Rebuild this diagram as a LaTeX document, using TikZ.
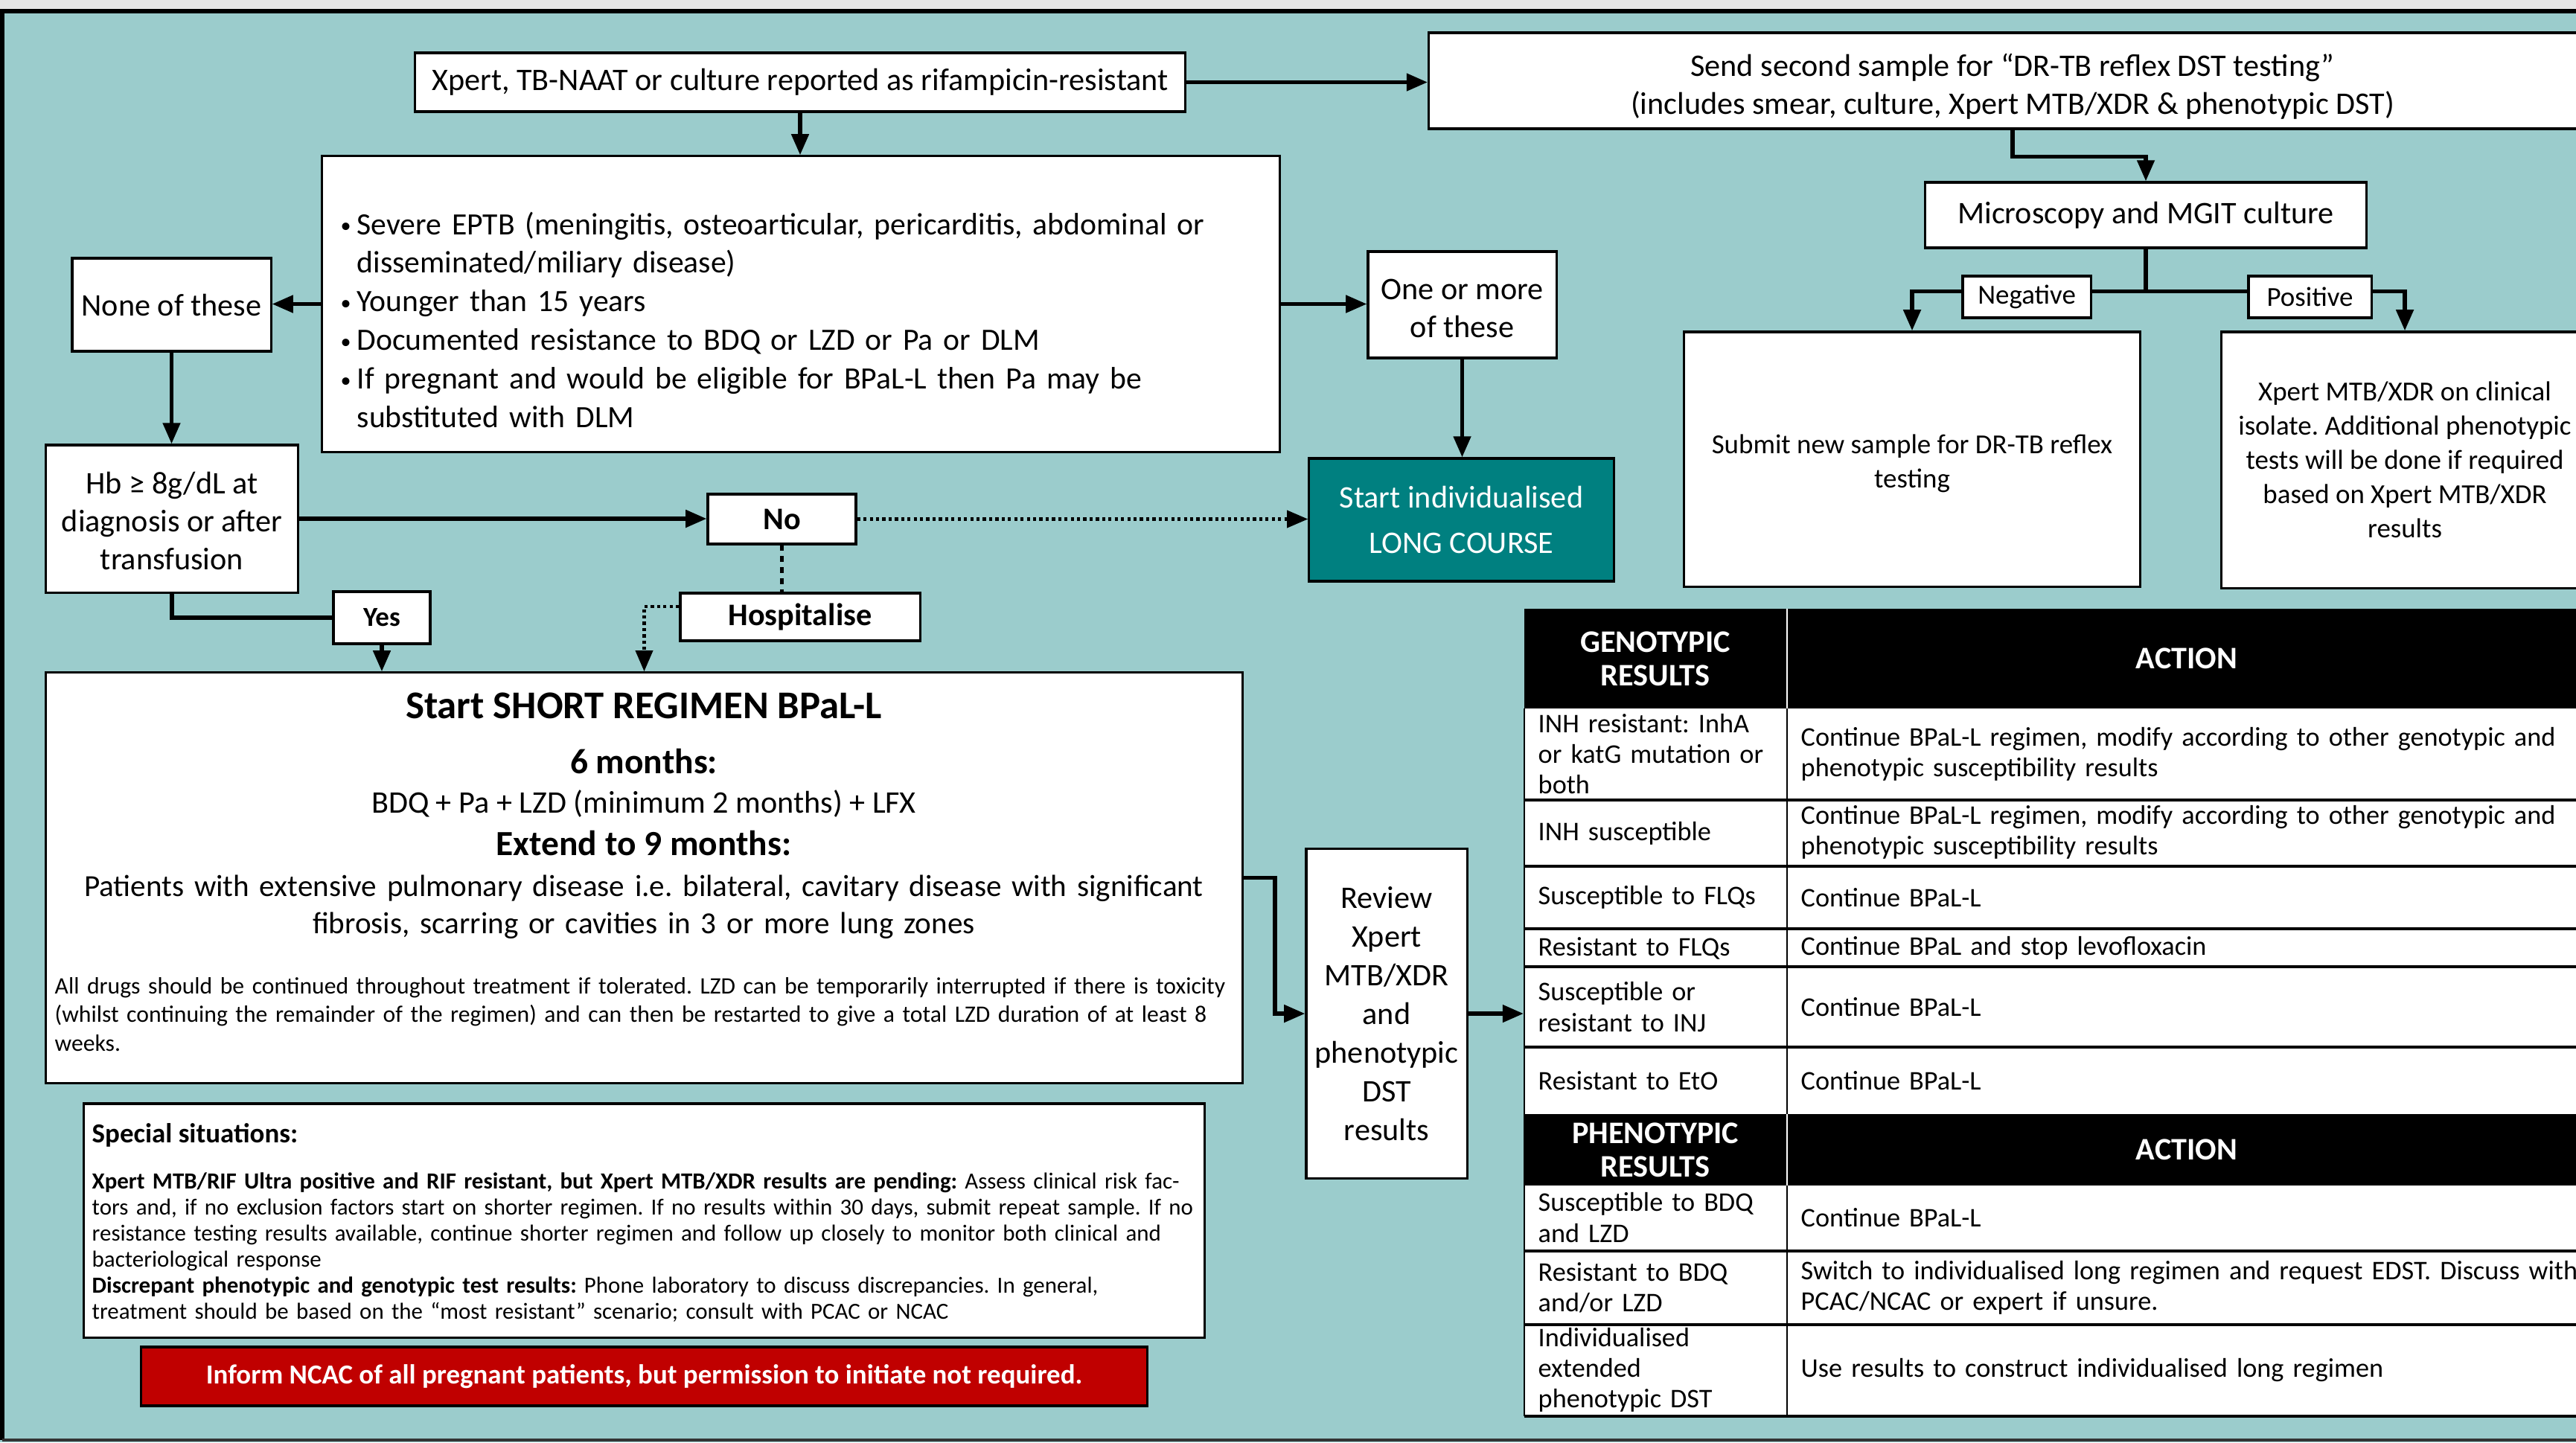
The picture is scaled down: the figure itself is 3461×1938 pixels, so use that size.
\documentclass[tikz,border=0pt]{standalone}
\usepackage{fontspec}
\setmainfont{Carlito}
\usetikzlibrary{arrows.meta}
\definecolor{bgteal}{RGB}{155,204,204}
\definecolor{darkteal}{RGB}{0,128,128}
\definecolor{alertred}{RGB}{192,0,0}
\definecolor{topgrey}{RGB}{230,230,230}
\newcommand{\fsz}[2]{\fontsize{#1}{#2}\selectfont}
\newcommand{\bulx}{\makebox[0.22cm][l]{\fsz{8}{8}\raisebox{0.6pt}{\textbullet}}}
\newcommand{\indx}{\hspace*{0.22cm}}
\newcommand{\jline}[1]{\makebox[14.85cm][s]{#1}}
\frenchspacing
\tikzset{
  box/.style={draw=black, line width=0.9pt, fill=white, inner sep=0pt, align=center},
  txt/.style={inner sep=0pt},
  arr/.style={line width=1.5pt, -{Triangle[length=8pt,width=6.5pt]}},
  seg/.style={line width=1.5pt},
  dotarr/.style={line width=1.2pt, dash pattern=on 1.2pt off 1.2pt, -{Triangle[length=8pt,width=6.5pt]}},
  dashseg/.style={line width=1.2pt, dash pattern=on 2.2pt off 2pt},
  tline/.style={line width=1pt},
  tthin/.style={line width=0.5pt},
  cellL/.style={txt, anchor=west, text width=3.3cm, align=left, font=\fsz{10.3}{11.7}},
  cellR/.style={txt, anchor=west, text width=10.8cm, align=left, font=\fsz{10.3}{11.7}},
  headtxt/.style={txt, text=white, align=center, font=\fsz{12}{12.8}\bfseries},
}
\begin{document}
\begin{tikzpicture}[x=0.01cm, y=-0.01cm]
\useasboundingbox (0,0) rectangle (3461,1938);
\clip (0,0) rectangle (3461,1938);
\fill[topgrey] (0,0) rectangle (3461,12);
\fill[bgteal] (0,12) rectangle (3461,1938);
\draw[line width=1.5pt] (3,1935) -- (3,15) -- (3470,15);
\draw[line width=1.2pt, black!80] (3,1935) -- (3470,1935);

% top flow
\node[box, minimum width=10.34cm, minimum height=0.79cm, font=\fsz{12}{14.5}] (xpert) at (1075,110.5) {\raisebox{-0.04cm}{Xpert, TB-NAAT or culture reported as rifampicin-resistant}};
\node[box, minimum width=15.68cm, minimum height=1.29cm, font=\fsz{12}{14.5}] (send) at (2704,108.5) {\rule{0pt}{0.46cm}Send second sample for “DR-TB reflex DST testing”\\(includes smear, culture, Xpert MTB/XDR \& phenotypic DST)};
\node[box, minimum width=5.92cm, minimum height=0.88cm, font=\fsz{12}{14.5}] (micro) at (2883,289) {\raisebox{-0.03cm}{Microscopy and MGIT culture}};
\node[box, minimum width=6.12cm, minimum height=3.42cm, font=\fsz{10.5}{13.1}] (submit) at (2569,617) {\rule{0pt}{0.38cm}Submit new sample for DR-TB reflex\\testing};
\node[box, minimum width=4.92cm, minimum height=3.44cm, font=\fsz{10.5}{13.1}] (posbox) at (3231,618) {Xpert MTB/XDR on clinical\\isolate. Additional phenotypic\\tests will be done if required\\based on Xpert MTB/XDR\\results};

\node[box, minimum width=12.86cm, minimum height=3.97cm] (eptb) at (1076,408.5) {};
\node[txt, anchor=base west, text width=12.5cm, align=left, font=\fsz{11.85}{14.74}] (eptbtext) at (457,315) {\bulx Severe EPTB (meningitis, osteoarticular, pericarditis, abdominal or\\\indx disseminated/miliary disease)\\\bulx Younger than 15 years\\\bulx Documented resistance to BDQ or LZD or Pa or DLM\\\bulx If pregnant and would be eligible for BPaL-L then Pa may be\\\indx substituted with DLM};

\node[box, minimum width=2.67cm, minimum height=1.25cm, font=\fsz{12}{14.5}] (none) at (230.5,409.5) {None of these};
\node[box, minimum width=2.53cm, minimum height=1.43cm, font=\fsz{12}{14.5}] (one) at (1964.5,409.5) {\rule{0pt}{0.38cm}One or more\\of these};
\node[box, minimum width=4.09cm, minimum height=1.65cm, fill=darkteal, text=white, font=\fsz{12}{17.6}] (indiv) at (1963.5,698.5) {Start individualised\\LONG COURSE};
\node[box, minimum width=3.38cm, minimum height=1.98cm, font=\fsz{12}{14.5}] (hb) at (231,697) {\rule{0pt}{0.36cm}Hb ≥ 8g/dL at\\diagnosis or after\\transfusion};
\node[box, minimum width=1.99cm, minimum height=0.67cm, font=\fsz{12}{14.5}\bfseries] (no) at (1050.5,697.5) {\raisebox{-0.04cm}{No}};
\node[box, minimum width=3.22cm, minimum height=0.64cm, font=\fsz{12}{14.5}\bfseries] (hosp) at (1075,829) {\raisebox{-0.08cm}{Hospitalise}};
\node[box, minimum width=1.30cm, minimum height=0.70cm, font=\fsz{10.5}{13}\bfseries] (yes) at (513,830) {\raisebox{-0.02cm}{Yes}};

% short regimen box
\node[box, minimum width=16.07cm, minimum height=5.51cm] (short) at (865.5,1179.5) {};
\node[txt, anchor=base, font=\fsz{15}{18}\bfseries] (shorttitle) at (865,965) {Start SHORT REGIMEN BPaL-L};
\node[txt, anchor=base, font=\fsz{13.5}{16}\bfseries] (six) at (865,1039) {6 months:};
\node[txt, anchor=base, font=\fsz{12}{14.5}] (drugs) at (865,1092) {BDQ + Pa + LZD (minimum 2 months) + LFX};
\node[txt, anchor=base, font=\fsz{13.5}{16}\bfseries] (nine) at (865,1149) {Extend to 9 months:};
\node[txt, anchor=base, text width=15.9cm, align=center, font=\fsz{11.7}{14.37}] (ext) at (865,1204) {Patients with extensive pulmonary disease i.e. bilateral, cavitary disease with significant\\fibrosis, scarring or cavities in 3 or more lung zones};
\node[txt, anchor=base west, text width=15.9cm, align=left, font=\fsz{9}{10.95}] (allnote) at (73,1335) {All drugs should be continued throughout treatment if tolerated. LZD can be temporarily interrupted if there is toxicity\\(whilst continuing the remainder of the regimen) and can then be restarted to give a total LZD duration of at least 8\\weeks.};

% review
\node[box, minimum width=2.16cm, minimum height=4.42cm, font=\fsz{12}{14.8}] (review) at (1863,1362) {Review\\Xpert\\MTB/XDR\\and\\phenotypic\\DST\\results};

% table
\node[inner sep=0pt, minimum width=14.30cm, minimum height=10.85cm, fill=white] (tab) at (2763,1360.5) {};
\fill (2048,818) rectangle (3478,952);
\fill (2048,1497) rectangle (3478,1593);
\draw[white, line width=0.5pt] (2401,818) -- (2401,952) (2401,1497) -- (2401,1593);
\draw[tthin] (2401,952) -- (2401,1497) (2401,1593) -- (2401,1903);
\draw[tthin] (2048,952) -- (2048,1903);
\foreach \yy in {1075,1164,1248,1299,1407,1681,1780,1903} \draw[tline] (2048,\yy) -- (3478,\yy);
\node[headtxt] (genoh) at (2224,885) {GENOTYPIC\\RESULTS};
\node[headtxt] (acth1) at (2938,885) {ACTION};
\node[headtxt] (phenoh) at (2224,1545) {PHENOTYPIC\\RESULTS};
\node[headtxt] (acth2) at (2938,1545) {ACTION};
\node[cellL] (l1) at (2066,1013) {INH resistant: InhA\\or katG mutation or\\both};
\node[cellR] (r1) at (2419,1013) {Continue BPaL-L regimen, modify according to other genotypic and\\phenotypic susceptibility results};
\node[cellL] (l2) at (2066,1120) {INH susceptible};
\node[cellR] (r2) at (2419,1118) {Continue BPaL-L regimen, modify according to other genotypic and\\phenotypic susceptibility results};
\node[cellL] (l3) at (2066,1206) {Susceptible to FLQs};
\node[cellR] (r3) at (2419,1206) {Continue BPaL-L};
\node[cellL] (l4) at (2066,1274) {Resistant to FLQs};
\node[cellR] (r4) at (2419,1274) {Continue BPaL and stop levofloxacin};
\node[cellL] (l5) at (2066,1353) {Susceptible or\\resistant to INJ};
\node[cellR] (r5) at (2419,1353) {Continue BPaL-L};
\node[cellL] (l6) at (2066,1452) {Resistant to EtO};
\node[cellR] (r6) at (2419,1452) {Continue BPaL-L};
\node[cellL] (l7) at (2066,1636) {Susceptible to BDQ\\and LZD};
\node[cellR] (r7) at (2419,1636) {Continue BPaL-L};
\node[cellL] (l8) at (2066,1730) {Resistant to BDQ\\and/or LZD};
\node[cellR] (r8) at (2419,1730) {Switch to individualised long regimen and request EDST. Discuss with\\PCAC/NCAC or expert if unsure.};
\node[cellL] (l9) at (2066,1841) {Individualised\\extended\\phenotypic DST};
\node[cellR] (r9) at (2419,1841) {Use results to construct individualised long regimen};

% special situations
\node[box, minimum width=15.05cm, minimum height=3.14cm] (special) at (865.5,1640) {};
\node[txt, anchor=base west, font=\fsz{10.5}{12.5}\bfseries] (sptitle) at (123,1535) {Special situations:};
\node[txt, anchor=base west, text width=14.85cm, font=\fsz{8.8}{9.96}] (sptext) at (123,1597) {%
\jline{\textbf{Xpert MTB/RIF Ultra positive and RIF resistant, but Xpert MTB/XDR results are pending:} Assess clinical risk fac-}\par
\jline{tors and, if no exclusion factors start on shorter regimen. If no results within 30 days, submit repeat sample. If no}\par
\jline{resistance testing results available, continue shorter regimen and follow up closely to monitor both clinical and}\par
bacteriological response\par
\textbf{Discrepant phenotypic and genotypic test results:} Phone laboratory to discuss discrepancies. In general,\par
treatment should be based on the “most resistant” scenario; consult with PCAC or NCAC};

\node[box, minimum width=13.51cm, minimum height=0.79cm, fill=alertred, text=white, font=\fsz{10.5}{12.5}\bfseries] (inform) at (865.5,1849.5) {\raisebox{-0.02cm}{Inform NCAC of all pregnant patients, but permission to initiate not required.}};

% connectors
\draw[arr] (xpert.east) -- (xpert.east -| send.west);
\draw[arr] (xpert.south) -- (xpert.south |- eptb.north);
\draw[arr] (eptb.west) -- (eptb.west -| none.east);
\draw[arr] (eptb.east) -- (eptb.east -| one.west);
\draw[arr] (none.south) -- (none.south |- hb.north);
\draw[arr] (one.south) -- (one.south |- indiv.north);
\draw[arr] (hb.east) -- (hb.east -| no.west);
\draw[dotarr] (no.east) -- (no.east -| indiv.west);
\draw[dashseg] (no.south) -- (no.south |- hosp.north);
\draw[dotarr] (hosp.175) -| (short.north);
\draw[seg] (hb.south) |- (yes.west);
\draw[arr] (yes.south) -- (yes.south |- short.north);
\draw[arr] (short.east) -- ++(42,0) |- (review.west);
\draw[arr] (review.east) -- (review.east -| tab.west);
\draw[arr] (send.south) -- ++(0,36) -| (micro.north);
\draw[seg] (micro.south) -- ++(0,57) coordinate (split);
\draw[arr] (split) -| (submit.north);
\draw[arr] (split) -| (posbox.north);
\node[box, minimum width=1.72cm, minimum height=0.56cm, font=\fsz{10.5}{13}] (neg) at (2723,399) {\raisebox{-0.09cm}{Negative}};
\node[box, minimum width=1.65cm, minimum height=0.56cm, font=\fsz{10.5}{13}] (pos) at (3103.5,399) {\raisebox{-0.06cm}{Positive}};
\end{tikzpicture}
\end{document}
